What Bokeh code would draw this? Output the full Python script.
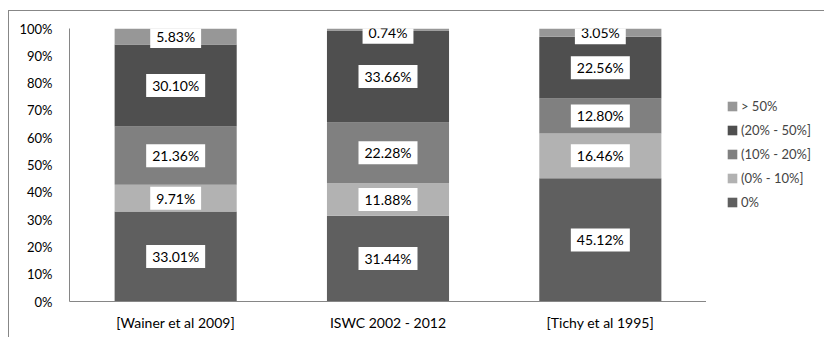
from bokeh.plotting import figure
from bokeh.layouts import row
from bokeh.models import ColumnDataSource, FactorRange, Range1d, Legend, LegendItem, FixedTicker, InlineStyleSheet
from bokeh.core.properties import value
from bokeh.embed import file_html
from bokeh.resources import INLINE

categories = ["[Wainer et al 2009]", "ISWC 2002 - 2012", "[Tichy et al 1995]"]
series = ["0%", "(0% - 10%]", "(10% - 20%]", "(20% - 50%]", "> 50%"]
zero = [33.01, 31.44, 45.12]
s0_10 = [9.71, 11.88, 16.46]
s10_20 = [21.36, 22.28, 12.80]
s20_50 = [30.10, 33.66, 22.56]
over50 = [5.83, 0.74, 3.05]
y_ticks = [0, 10, 20, 30, 40, 50, 60, 70, 80, 90, 100]
y_tick_labels = ["0%", "10%", "20%", "30%", "40%", "50%", "60%", "70%", "80%", "90%", "100%"]
colors = ["#5f5f5f", "#b2b2b2", "#808080", "#4f4f4f", "#979797"]

FONT = "Lato"

values = [zero, s0_10, s10_20, s20_50, over50]
data = {"cat": categories}
for name, vals in zip(series, values):
    data[name] = vals
source = ColumnDataSource(data)

p = figure(x_range=FactorRange(*categories), y_range=Range1d(0, 100),
           width=706, height=337, output_backend="svg", toolbar_location=None,
           min_border_left=69, min_border_right=0, min_border_top=28, min_border_bottom=36)
p.x_range.range_padding = 0

renderers = p.vbar_stack(series, x="cat", width=0.575, color=colors, line_color=None, source=source)

# segment labels (kept inside the plot area at the top)
lx, ly, lt = [], [], []
for i, c in enumerate(categories):
    base = 0.0
    for vals in values:
        v = vals[i]
        lx.append(c)
        ly.append(min(base + v / 2, 98.6))
        lt.append(f"{v:.2f}%")
        base += v
lsrc = ColumnDataSource(dict(x=lx, y=ly, text=lt))
p.text(x="x", y="y", text="text", source=lsrc, text_align="center", text_baseline="middle",
       text_font=value(FONT), text_font_size="14px", text_color="black",
       background_fill_color="white", padding={"left": 6, "right": 6, "top": 3, "bottom": 3})

p.xgrid.grid_line_color = None
p.ygrid.grid_line_color = None
p.outline_line_color = None

p.yaxis.ticker = FixedTicker(ticks=y_ticks)
p.yaxis.major_label_overrides = {t: l for t, l in zip(y_ticks, y_tick_labels)}
p.yaxis.major_tick_line_color = None
p.yaxis.minor_tick_line_color = None
p.yaxis.axis_line_color = "#868686"
p.yaxis.major_label_standoff = 11
p.yaxis.major_label_text_font = FONT
p.yaxis.major_label_text_font_size = "13px"
p.yaxis.major_label_text_color = "black"

p.xaxis.major_tick_line_color = None
p.xaxis.axis_line_color = "#868686"
p.xaxis.major_label_standoff = 6
p.xaxis.major_label_text_font = FONT
p.xaxis.major_label_text_font_size = "14px"
p.xaxis.major_label_text_color = "black"

# legend panel: same stacked series, hidden, only used for the legend keys
p2 = figure(width=118, height=337, x_range=FactorRange(*categories), y_range=Range1d(0, 100),
            x_axis_type=None, y_axis_type=None, output_backend="svg", toolbar_location=None,
            min_border=0, outline_line_color=None)
p2.xgrid.grid_line_color = None
p2.ygrid.grid_line_color = None
legend_renderers = p2.vbar_stack(series, x="cat", width=0.575, color=colors, line_color=None, source=source)
for r in legend_renderers:
    r.visible = False
items = [LegendItem(label=s, renderers=[r]) for s, r in zip(series, legend_renderers)][::-1]
legend = Legend(items=items, location=(20, 89), glyph_width=12, glyph_height=12,
                label_text_font=FONT, label_text_font_size="13px", label_standoff=3,
                label_height=20, spacing=4, padding=0, margin=0,
                border_line_color=None, background_fill_alpha=0,
                inactive_fill_alpha=0, click_policy="none")
p2.add_layout(legend)

layout = row(p, p2)
layout.stylesheets = [InlineStyleSheet(css=(
    ":host { position: relative; }"
    ":host::after { content: ''; position: absolute; left: 8px; top: 10px; right: -20px; bottom: -20px;"
    " border-left: 1px solid #878787; border-top: 1px solid #878787; z-index: 100; pointer-events: none; }"
))]

open("out.html", "w").write(file_html(layout, INLINE))
